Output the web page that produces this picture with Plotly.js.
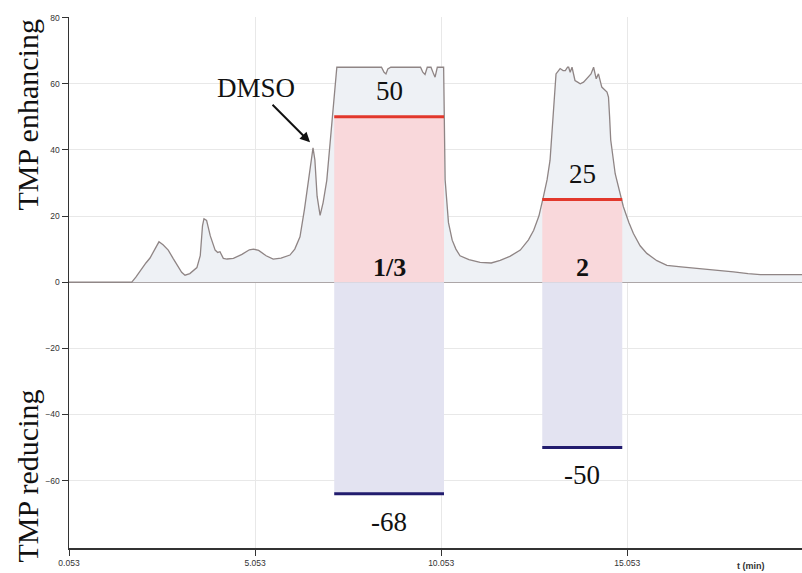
<!DOCTYPE html>
<html>
<head>
<meta charset="utf-8">
<script src="https://cdn.plot.ly/plotly-3.0.1.min.js"></script>
<style>html,body{margin:0;padding:0;background:#fff;}#chart{width:802px;height:573px;}</style>
</head>
<body>
<div id="chart"></div>
<script>
// Chromatogram trace (t in min, signal)
const curveT = [0.053,1.74,1.85,2.0,2.12,2.23,2.35,2.47,2.58,2.72,2.85,2.99,3.08,3.17,3.3,3.49,3.58,3.64,3.68,3.75,3.85,3.98,4.05,4.11,4.2,4.3,4.47,4.7,4.9,5.01,5.15,5.35,5.54,5.75,5.99,6.12,6.26,6.38,6.49,6.56,6.61,6.66,6.72,6.8,6.88,6.98,7.07,7.16,7.25,8.45,8.52,8.57,8.62,8.7,9.5,9.56,9.62,9.68,9.78,9.85,9.89,9.95,10.12,10.16,10.25,10.35,10.45,10.56,10.8,11.1,11.4,11.64,11.9,12.18,12.4,12.54,12.68,12.8,12.9,12.98,13.03,13.07,13.14,13.25,13.33,13.39,13.45,13.48,13.52,13.57,13.65,13.72,13.79,13.88,13.97,14.08,14.15,14.22,14.28,14.37,14.51,14.55,14.58,14.61,14.73,14.85,14.95,15.1,15.22,15.4,15.58,15.85,16.12,16.5,17.02,17.5,17.91,18.3,18.63,19.75];
const curveY = [0,0,1.5,4.1,5.8,7.3,9.8,12.2,11.3,9.7,7.2,4.6,3.0,2.1,2.6,4.4,8,17,19.2,18.7,14,9.7,9.0,9.2,7.2,7.0,7.2,8.4,9.8,10,9.6,8.0,7.0,7.3,8.2,10,13.7,22,30.8,38,40.6,37,26,20.2,24,30.8,42,53,65,65,63.5,63,64.5,65,65,63.5,62.8,65,65,63,62,65,65,31,18,12.7,10,8,6.8,6,5.8,6.6,7.8,9.7,12.8,15.7,20,25.8,31,36.9,45,53,63,64.6,64,64,65,65,63.5,65,61,60.5,60,60.5,61.5,63,65,61.5,63,59,57.5,56,50,43,32.8,27,22.8,18,14.7,11,8.7,6.5,5.1,4.6,4.1,3.6,3.1,2.6,2.3,2.3];

// Fraction windows
const fracLabels = ["1/3", "2"];
const fracStart = [7.18, 12.77];
const fracEnd = [10.13, 14.92];
const enhancing = [50, 25];
const reducingLine = [-64, -50];
const reducingLabels = ["-68", "-50"];

// Axis ticks
const xTickVals = [0.053, 5.053, 10.053, 15.053];
const xTickText = ["0.053", "5.053", "10.053", "15.053"];
const yTickVals = [-60, -40, -20, 0, 20, 40, 60, 80];

const traces = [];
traces.push({x: curveT, y: curveY, type: 'scatter', mode: 'lines', fill: 'tozeroy',
  fillcolor: '#eef1f5', line: {width: 0, color: 'rgba(0,0,0,0)'}, hoverinfo: 'skip'});

for (let i = 0; i < fracLabels.length; i++) {
  const a = fracStart[i], b = fracEnd[i];
  traces.push({x: [a, b, b, a, a], y: [0, 0, enhancing[i], enhancing[i], 0], type: 'scatter', mode: 'lines',
    fill: 'toself', fillcolor: '#f9d8db', line: {width: 0, color: 'rgba(0,0,0,0)'}, hoverinfo: 'skip'});
  traces.push({x: [a, b, b, a, a], y: [0, 0, reducingLine[i], reducingLine[i], 0], type: 'scatter', mode: 'lines',
    fill: 'toself', fillcolor: '#e3e3f1', line: {width: 0, color: 'rgba(0,0,0,0)'}, hoverinfo: 'skip'});
}
traces.push({x: curveT, y: curveY, type: 'scatter', mode: 'lines',
  line: {width: 1.3, color: '#8f8585'}, hoverinfo: 'skip'});
for (let i = 0; i < fracLabels.length; i++) {
  const a = fracStart[i], b = fracEnd[i];
  traces.push({x: [a, b], y: [enhancing[i], enhancing[i]], type: 'scatter', mode: 'lines',
    line: {width: 3, color: '#e2382c'}, hoverinfo: 'skip'});
  traces.push({x: [a, b], y: [reducingLine[i], reducingLine[i]], type: 'scatter', mode: 'lines',
    line: {width: 3, color: '#221c6e'}, hoverinfo: 'skip'});
}

const serif = 'Liberation Serif, Times New Roman, serif';
const ann = [];
for (let i = 0; i < fracLabels.length; i++) {
  const mid = (fracStart[i] + fracEnd[i]) / 2;
  ann.push({x: mid, y: enhancing[i], yshift: 26, text: String(enhancing[i]), showarrow: false,
    xref: 'x', yref: 'y', font: {family: serif, size: 27, color: '#111'}});
  ann.push({x: mid, y: 0, yshift: 15, text: '<b>' + fracLabels[i] + '</b>', showarrow: false,
    xref: 'x', yref: 'y', font: {family: serif, size: 26, color: '#111'}});
  ann.push({x: mid, y: reducingLine[i], yshift: -28, text: reducingLabels[i], showarrow: false,
    xref: 'x', yref: 'y', font: {family: serif, size: 27, color: '#111'}});
}
ann.push({x: 6.53, y: 42.3, ax: -54, ay: -54, text: 'DMSO', showarrow: true, arrowhead: 2,
  arrowsize: 1, arrowwidth: 2, arrowcolor: '#111', standoff: 0,
  xref: 'x', yref: 'y', font: {family: serif, size: 27, color: '#111'}});
ann.push({x: -0.057, y: 0.815, xref: 'paper', yref: 'paper', xanchor: 'center', yanchor: 'middle',
  text: 'TMP enhancing', showarrow: false, textangle: -90, font: {family: serif, size: 30, color: '#111'}});
ann.push({x: -0.057, y: 0.135, xref: 'paper', yref: 'paper', xanchor: 'center', yanchor: 'middle',
  text: 'TMP reducing', showarrow: false, textangle: -90, font: {family: serif, size: 30, color: '#111'}});
ann.push({x: 0.931, y: -0.02, xref: 'paper', yref: 'paper', xanchor: 'center', yanchor: 'top',
  text: '<b>t (min)</b>', showarrow: false, font: {family: 'Liberation Sans, Arial, sans-serif', size: 9, color: '#333'}});

const layout = {
  width: 802, height: 573,
  margin: {l: 69, r: 0, t: 17, b: 25},
  paper_bgcolor: '#fff', plot_bgcolor: '#fff',
  showlegend: false,
  xaxis: {range: [0.053, 19.75], tickvals: xTickVals, ticktext: xTickText,
    showgrid: true, gridcolor: '#e8e8e8', gridwidth: 1, zeroline: false,
    showline: true, linecolor: '#333', linewidth: 1.5, ticks: 'outside', ticklen: 6, tickcolor: '#333',
    tickfont: {family: 'Liberation Sans, Arial, sans-serif', size: 8.5, color: '#333'}},
  yaxis: {range: [-80.4, 80.2], tickvals: yTickVals,
    showgrid: true, gridcolor: '#e8e8e8', gridwidth: 1,
    zeroline: true, zerolinecolor: '#968c8c', zerolinewidth: 1.2,
    showline: true, linecolor: '#333', linewidth: 1.5, ticks: 'outside', ticklen: 6, tickcolor: '#333',
    tickfont: {family: 'Liberation Sans, Arial, sans-serif', size: 8.5, color: '#333'}},
  annotations: ann
};
Plotly.newPlot('chart', traces, layout, {displayModeBar: false, staticPlot: true});
</script>
</body>
</html>
